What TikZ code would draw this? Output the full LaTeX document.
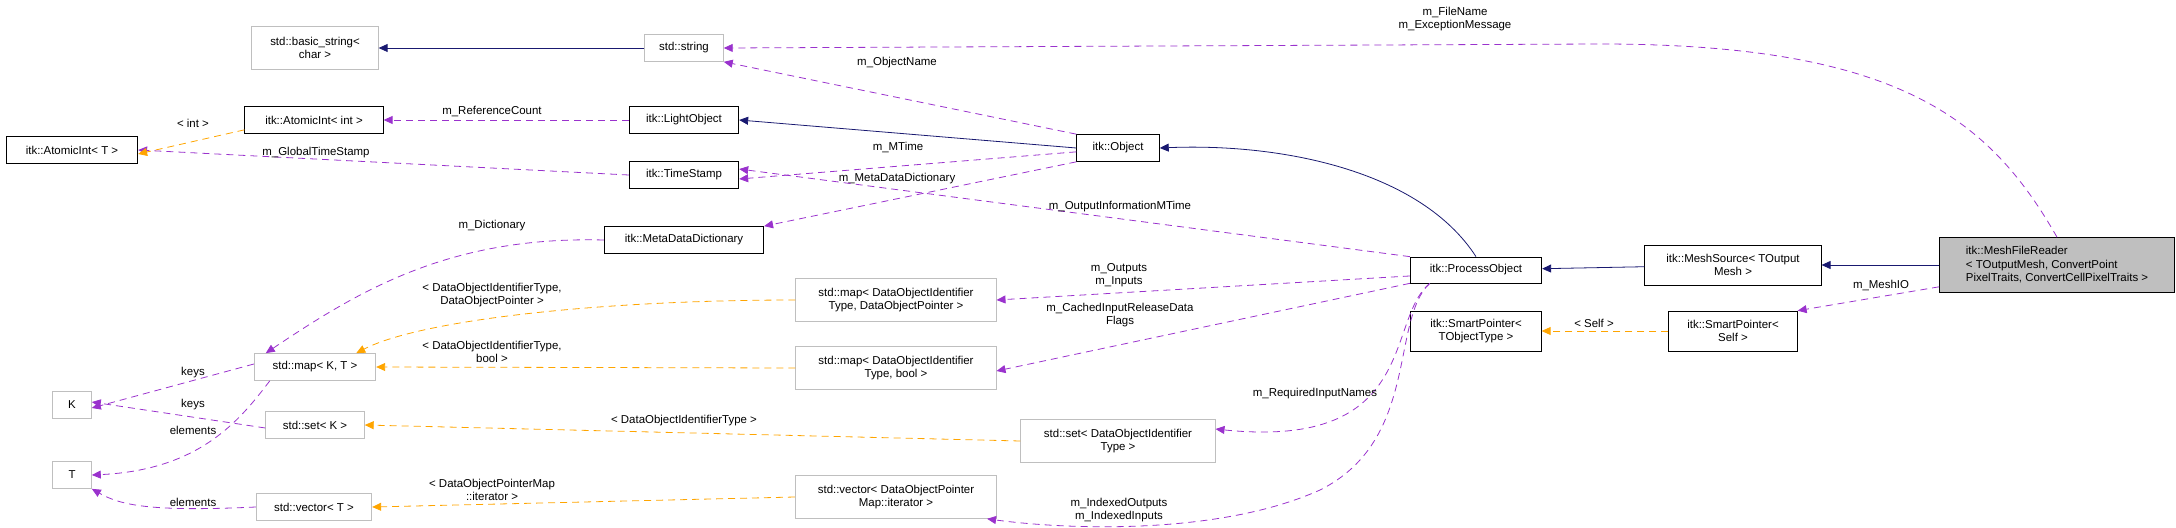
\documentclass[tikz,border=0pt]{standalone}
\usepackage{fontspec}
\setmainfont{Liberation Sans}
\usetikzlibrary{arrows.meta}
\definecolor{edgepurple}{HTML}{9A32CD}
\definecolor{edgeorange}{HTML}{FFA500}
\definecolor{edgenavy}{HTML}{191970}
\tikzset{
  cls/.style={draw=black,thick,fill=white,align=center,inner sep=0pt},
  ext/.style={draw=black!25,thick,fill=white,align=center,inner sep=0pt},
  member/.style={edgepurple,dash pattern=on 7bp off 5bp,thick,-{Triangle[length=9,width=8]}},
  tmpl/.style={edgeorange,dash pattern=on 7bp off 5bp,thick,-{Triangle[length=9,width=8]}},
  inherit/.style={edgenavy,thick,-{Triangle[length=9,width=8]}},
  lbl/.style={align=center,inner sep=0pt}
}
\begin{document}
\begin{tikzpicture}[x=1bp,y=-1bp,font=\fontsize{11.5}{13.5}\selectfont]
\useasboundingbox (0,0) rectangle (2176,528);
% left column
\node[ext,minimum width=127,minimum height=43] (bstr) at (315,48) {std::basic\_string\textless\\char \textgreater};
\node[cls,minimum width=139,minimum height=27] (aint) at (314,120) {itk::AtomicInt\textless{} int \textgreater};
\node[cls,minimum width=132,minimum height=27] (atomT) at (72,150) {itk::AtomicInt\textless{} T \textgreater};
\node[ext,minimum width=122,minimum height=27] (mapKT) at (315,367) {std::map\textless{} K, T \textgreater};
\node[ext,minimum width=39,minimum height=27] (K) at (72,405) {K};
\node[ext,minimum width=99,minimum height=27] (setK) at (315,425) {std::set\textless{} K \textgreater};
\node[ext,minimum width=39,minimum height=27] (T) at (72,475) {T};
\node[ext,minimum width=116,minimum height=27] (vecT) at (314,507) {std::vector\textless{} T \textgreater};
% middle column
\node[ext,minimum width=79,minimum height=27] (str) at (684,48) {std::string};
\node[cls,minimum width=110,minimum height=27] (light) at (684,120) {itk::LightObject};
\node[cls,minimum width=110,minimum height=27] (tstamp) at (684,175) {itk::TimeStamp};
\node[cls,minimum width=160,minimum height=27] (mdd) at (684,240) {itk::MetaDataDictionary};
\node[cls,minimum width=83,minimum height=27] (obj) at (1118,148) {itk::Object};
\node[ext,minimum width=201,minimum height=43] (mapDOP) at (896,300) {std::map\textless{} DataObjectIdentifier\\Type, DataObjectPointer \textgreater};
\node[ext,minimum width=201,minimum height=43] (mapBool) at (896,368) {std::map\textless{} DataObjectIdentifier\\Type, bool \textgreater};
\node[ext,minimum width=195,minimum height=43] (setDOI) at (1118,441) {std::set\textless{} DataObjectIdentifier\\Type \textgreater};
\node[ext,minimum width=202,minimum height=43] (vecDOPM) at (896,497) {std::vector\textless{} DataObjectPointer\\Map::iterator \textgreater};
% right part
\node[cls,minimum width=132,minimum height=26] (proc) at (1476,270) {itk::ProcessObject};
\node[cls,minimum width=177,minimum height=40] (msrc) at (1733,265) {itk::MeshSource\textless{} TOutput\\Mesh \textgreater};
\node[cls,fill=black!25,minimum width=236,minimum height=55,align=left] (reader) at (2057,265) {itk::MeshFileReader\\\textless{} TOutputMesh, ConvertPoint\\PixelTraits, ConvertCellPixelTraits \textgreater};
\node[cls,minimum width=131,minimum height=40] (spObj) at (1476,331) {itk::SmartPointer\textless\\TObjectType \textgreater};
\node[cls,minimum width=129,minimum height=40] (spSelf) at (1733,331) {itk::SmartPointer\textless\\Self \textgreater};
% inheritance
\draw[inherit] (str) -- (bstr);
\draw[inherit] (obj.west) -- (light.east);
\draw[inherit] (proc.north) .. controls (1420,170) and (1280,143) .. (obj.east);
\draw[inherit] (msrc) -- (proc);
\draw[inherit] (reader) -- (msrc);
% members
\draw[member] (reader.north) .. controls (1990,120) and (1900,44) .. (1600,44) -- (str.east);
\node[lbl] at (1455,19) {m\_FileName\\m\_ExceptionMessage};
\draw[member] (obj.north west) -- (str.south east);
\node[lbl] at (897,63) {m\_ObjectName};
\draw[member] (light) -- (aint);
\node[lbl] at (492,111) {m\_ReferenceCount};
\draw[member] (tstamp.west) -- (atomT.east);
\node[lbl] at (316,153) {m\_GlobalTimeStamp};
\draw[member] (obj.south west) ++(0,-10) -- ([yshift=-4]tstamp.east);
\node[lbl] at (898,147) {m\_MTime};
\draw[member] (obj.south west) -- (mdd.north east);
\node[lbl] at (897,179) {m\_MetaDataDictionary};
\draw[member] (proc.north west) -- ([yshift=6]tstamp.east);
\node[lbl] at (1120,207) {m\_OutputInformationMTime};
\draw[member] (mdd.west) .. controls (450,236) and (360,290) .. ([xshift=12]mapKT.north west);
\node[lbl] at (492,226) {m\_Dictionary};
\draw[member] ([yshift=-6]proc.west) -- (mapDOP.east);
\node[lbl] at (1119,275) {m\_Outputs\\m\_Inputs};
\draw[member] (proc.south west) -- ([yshift=-3]mapBool.east);
\node[lbl] at (1120,315) {m\_CachedInputReleaseData\\Flags};
\draw[member] ([xshift=20]proc.south west) .. controls (1385,320) and (1420,450) .. ([yshift=12]setDOI.east);
\node[lbl] at (1315,394) {m\_RequiredInputNames};
\draw[member] ([xshift=20]proc.south west) .. controls (1390,320) and (1420,440) .. (1320,490) .. controls (1220,535) and (1070,530) .. ([xshift=-10]vecDOPM.south east);
\node[lbl] at (1119,510) {m\_IndexedOutputs\\m\_IndexedInputs};
\draw[member] ([yshift=3]mapKT.west) -- ([yshift=-3]K.east);
\node[lbl] at (193,373) {keys};
\draw[member] ([yshift=-3]setK.west) -- ([yshift=3]K.east);
\node[lbl] at (193,405) {keys};
\draw[member] ([xshift=16]mapKT.south west) .. controls (240,420) and (200,470) .. (T.east);
\node[lbl] at (193,430) {elements};
\draw[member] (vecT.west) .. controls (150,512) and (120,505) .. (T.south east);
\node[lbl] at (193,502) {elements};
\draw[member] ([yshift=6]reader.south west) -- (spSelf.north east);
\node[lbl] at (1881,285) {m\_MeshIO};
% template instances
\draw[tmpl] ([yshift=4]aint.south west) -- ([yshift=-4]atomT.east);
\node[lbl] at (193,123) {\textless{} int \textgreater};
\draw[tmpl] (mapDOP.west) .. controls (600,300) and (420,320) .. ([xshift=-20]mapKT.north east);
\node[lbl] at (492,295) {\textless{} DataObjectIdentifierType,\\DataObjectPointer \textgreater};
\draw[tmpl] (mapBool.west) -- (mapKT.east);
\node[lbl] at (492,352) {\textless{} DataObjectIdentifierType,\\bool \textgreater};
\draw[tmpl] (setDOI.west) -- (setK.east);
\node[lbl] at (684,421) {\textless{} DataObjectIdentifierType \textgreater};
\draw[tmpl] (vecDOPM.west) -- (vecT.east);
\node[lbl] at (492,490) {\textless{} DataObjectPointerMap\\::iterator \textgreater};
\draw[tmpl] (spSelf) -- (spObj);
\node[lbl] at (1594,323) {\textless{} Self \textgreater};
\end{tikzpicture}
\end{document}
